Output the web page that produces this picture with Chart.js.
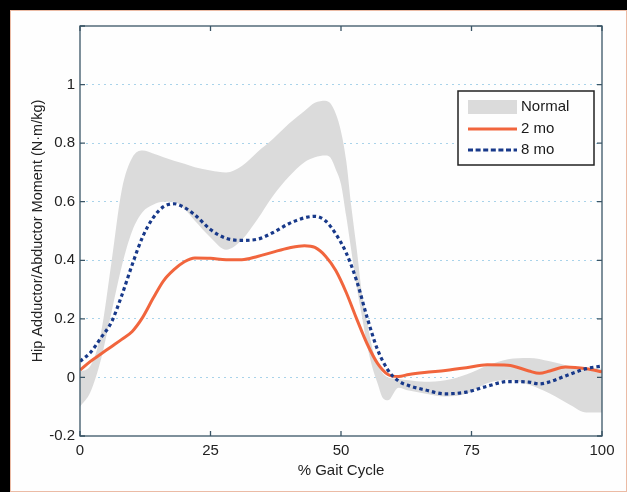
<!DOCTYPE html>
<html>
<head>
<meta charset="utf-8">
<script src="https://cdn.jsdelivr.net/npm/chart.js@4.4.1/dist/chart.umd.min.js"></script>
<style>
  html, body { margin: 0; padding: 0; background: #000; }
  #frame {
    position: absolute; left: 10px; top: 10px;
    width: 617px; height: 482px; box-sizing: border-box;
    background: #fefefe; border: 1px solid #ebbba5;
  }
  #chart { position: absolute; left: 0; top: 0; }
</style>
</head>
<body>
<div id="frame"><canvas id="chart" width="615" height="478"></canvas></div>
<script>
// % gait cycle sample points for the measured curves
const gaitX = [0, 2, 4, 6, 8, 10, 12, 14, 16, 18, 20, 22, 25, 28, 31, 34, 37, 40, 43, 45, 47, 49, 51, 53, 55, 57, 59, 61, 63, 66, 70, 74, 78, 82, 86, 88, 90, 93, 97, 100];
const twoMonths = [0.025, 0.055, 0.08, 0.105, 0.13, 0.157, 0.205, 0.27, 0.33, 0.368, 0.395, 0.408, 0.407, 0.402, 0.402, 0.413, 0.428, 0.442, 0.45, 0.444, 0.415, 0.365, 0.29, 0.2, 0.115, 0.048, 0.01, 0.003, 0.01, 0.017, 0.024, 0.033, 0.043, 0.042, 0.022, 0.014, 0.022, 0.036, 0.03, 0.019];
const eightMonths = [0.055, 0.085, 0.135, 0.188, 0.28, 0.385, 0.48, 0.545, 0.583, 0.593, 0.58, 0.555, 0.505, 0.475, 0.468, 0.472, 0.495, 0.525, 0.545, 0.55, 0.535, 0.49, 0.425, 0.33, 0.205, 0.095, 0.025, -0.012, -0.028, -0.042, -0.056, -0.05, -0.03, -0.014, -0.016, -0.022, -0.015, 0.005, 0.03, 0.039];

// normal band (upper / lower edge)
const bandX = [0, 2, 4, 6, 8, 10, 12, 14, 16, 18, 20, 22, 25, 28, 31, 34, 37, 40, 43, 45, 47, 48, 49, 50, 51, 52, 53, 54, 55, 56, 57, 58, 59, 61, 63, 66, 70, 74, 78, 82, 86, 90, 94, 97, 100];
const normalUpper = [0.02, 0.04, 0.15, 0.39, 0.64, 0.75, 0.775, 0.765, 0.752, 0.74, 0.73, 0.718, 0.707, 0.7, 0.722, 0.77, 0.815, 0.866, 0.91, 0.938, 0.945, 0.935, 0.9, 0.84, 0.74, 0.58, 0.44, 0.29, 0.19, 0.1, 0.045, 0.014, 0.0, -0.005, -0.01, -0.015, -0.01, 0.01, 0.04, 0.062, 0.066, 0.055, 0.038, 0.032, 0.03];
const normalLower = [-0.1, -0.05, 0.06, 0.22, 0.38, 0.5, 0.565, 0.59, 0.6, 0.6, 0.575, 0.535, 0.478, 0.436, 0.47, 0.54, 0.62, 0.685, 0.735, 0.752, 0.758, 0.75, 0.71, 0.66, 0.55, 0.43, 0.31, 0.21, 0.11, 0.035, -0.02, -0.07, -0.078, -0.035, -0.045, -0.055, -0.065, -0.056, -0.02, -0.008, -0.025, -0.055, -0.095, -0.12, -0.12];

const xTicks = [0, 25, 50, 75, 100];

const font = "'Liberation Sans', Arial, Helvetica, sans-serif";
const orange = '#f1653d';
const navy = '#18398a';
const grey = '#dbdbdb';
const axisColor = '#3a5566';

const pts = (xs, ys) => xs.map((x, i) => ({ x: x, y: ys[i] }));

// box round the plot with inward ticks on all four sides
const boxPlugin = {
  id: 'box',
  afterDatasetsDraw(chart) {
    const { ctx, chartArea: a, scales } = chart;
    ctx.save();
    ctx.strokeStyle = axisColor;
    ctx.lineWidth = 1.3;
    ctx.strokeRect(a.left, a.top, a.right - a.left, a.bottom - a.top);
    ctx.beginPath();
    scales.x.ticks.forEach(t => {
      const px = scales.x.getPixelForValue(t.value);
      ctx.moveTo(px, a.bottom); ctx.lineTo(px, a.bottom - 5);
      ctx.moveTo(px, a.top); ctx.lineTo(px, a.top + 5);
    });
    scales.y.ticks.forEach(t => {
      const py = scales.y.getPixelForValue(t.value);
      ctx.moveTo(a.left, py); ctx.lineTo(a.left + 5, py);
      ctx.moveTo(a.right, py); ctx.lineTo(a.right - 5, py);
    });
    ctx.stroke();
    ctx.restore();
  }
};

// legend box inside the plot, top right
const legendPlugin = {
  id: 'insideLegend',
  afterDraw(chart) {
    const { ctx, chartArea: a } = chart;
    const w = 136, h = 74;
    const x0 = a.right - 8 - w, y0 = a.top + 65;
    ctx.save();
    ctx.fillStyle = '#fefefe';
    ctx.fillRect(x0, y0, w, h);
    ctx.strokeStyle = '#222';
    ctx.lineWidth = 1.5;
    ctx.strokeRect(x0, y0, w, h);
    const sx = x0 + 10, sw = 49;
    ctx.fillStyle = grey;
    ctx.fillRect(sx, y0 + 9, sw, 14);
    ctx.lineWidth = 3;
    ctx.strokeStyle = orange;
    ctx.beginPath(); ctx.moveTo(sx, y0 + 38); ctx.lineTo(sx + sw, y0 + 38); ctx.stroke();
    ctx.strokeStyle = navy;
    ctx.setLineDash([5, 2.6]);
    ctx.beginPath(); ctx.moveTo(sx, y0 + 59); ctx.lineTo(sx + sw, y0 + 59); ctx.stroke();
    ctx.setLineDash([]);
    ctx.fillStyle = '#1a1a1a';
    ctx.font = '15px ' + font;
    ctx.textBaseline = 'middle';
    ctx.fillText('Normal', sx + sw + 4, y0 + 16);
    ctx.fillText('2 mo', sx + sw + 4, y0 + 38);
    ctx.fillText('8 mo', sx + sw + 4, y0 + 59);
    ctx.restore();
  }
};

new Chart(document.getElementById('chart'), {
  type: 'line',
  data: {
    datasets: [
      {
        label: '8 mo', data: pts(gaitX, eightMonths),
        borderColor: navy, borderWidth: 3.2, borderDash: [3.5, 3],
        pointRadius: 0, fill: false, cubicInterpolationMode: 'monotone'
      },
      {
        label: '2 mo', data: pts(gaitX, twoMonths),
        borderColor: orange, borderWidth: 3,
        pointRadius: 0, fill: false, cubicInterpolationMode: 'monotone'
      },
      {
        label: 'Normal', data: pts(bandX, normalUpper),
        borderWidth: 0, borderColor: grey, backgroundColor: grey,
        pointRadius: 0, fill: '+1', cubicInterpolationMode: 'monotone'
      },
      {
        label: 'Normal lower', data: pts(bandX, normalLower),
        borderWidth: 0, borderColor: grey,
        pointRadius: 0, fill: false, cubicInterpolationMode: 'monotone'
      }
    ]
  },
  options: {
    responsive: false,
    animation: false,
    layout: { padding: { top: 15, right: 24, left: 0, bottom: 0 } },
    plugins: { legend: { display: false }, tooltip: { enabled: false } },
    scales: {
      x: {
        type: 'linear', min: 0, max: 100,
        afterBuildTicks: s => { s.ticks = xTicks.map(v => ({ value: v })); },
        afterFit: s => { s.height = 53; },
        grid: { display: false, drawTicks: false },
        border: { display: false },
        ticks: { padding: 6, color: '#222', font: { family: font, size: 15 } },
        title: {
          display: true, text: '% Gait Cycle', color: '#222',
          font: { family: font, size: 15 }, padding: { top: 0, bottom: 9 }
        }
      },
      y: {
        min: -0.2, max: 1.2,
        ticks: {
          stepSize: 0.2, padding: 5, color: '#222', font: { family: font, size: 15 },
          callback: v => (v > 1.1 ? '' : String(Math.round(v * 10) / 10))
        },
        afterFit: s => { s.width = 69; },
        grid: {
          drawTicks: false, lineWidth: 1,
          color: c => (c.tick.value > 1.1 || c.tick.value < -0.1 ? 'rgba(0,0,0,0)' : '#a9d3ea')
        },
        border: { display: false, dash: [2, 4] },
        title: {
          display: true, text: 'Hip Adductor/Abductor Moment (N\u00b7m/kg)', color: '#222',
          font: { family: font, size: 14.5 }, padding: { top: 18, bottom: 0 }
        }
      }
    }
  },
  plugins: [boxPlugin, legendPlugin]
});
</script>
</body>
</html>
